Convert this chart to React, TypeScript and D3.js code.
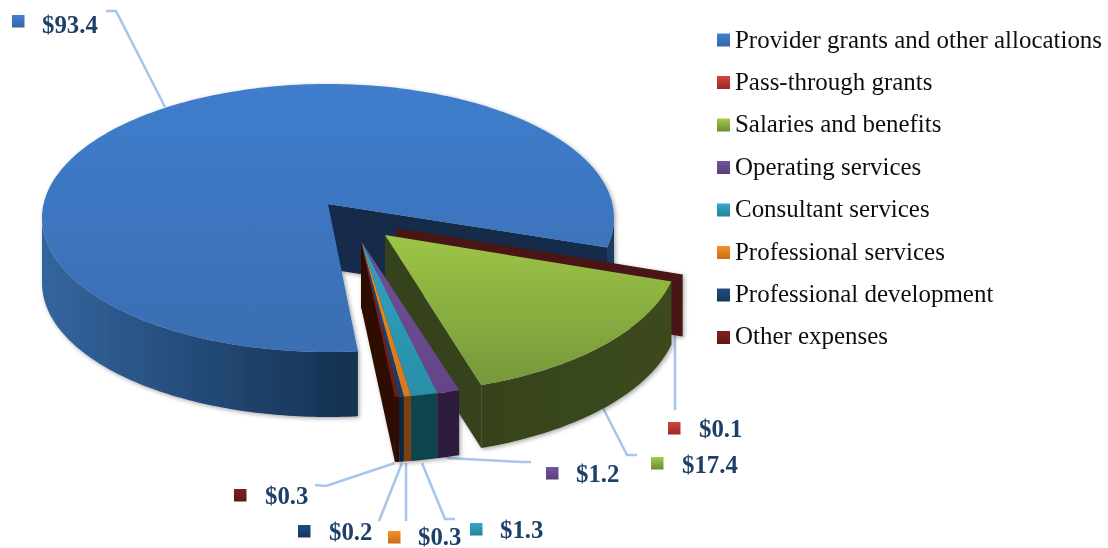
import React from 'react';
import * as d3 from 'd3';

const categories = ['Provider grants and other allocations','Pass-through grants','Salaries and benefits','Operating services','Consultant services','Professional services','Professional development','Other expenses'];
const values = [93.4, 0.1, 17.4, 1.2, 1.3, 0.3, 0.2, 0.3];

// styles
const topLight = ['#3f7dcc','#cf3f3b','#9dc546','#70509c','#2fa3c2','#f08a24','#1d4a7e','#7e1f1d'];
const topDark  = ['#3a6eb2','#a62f2c','#76983a','#634587','#2a8ea8','#d8771c','#173c66','#691a18'];
const sideLeft = ['#33659f','#4a1512','#36431a','#2d1f3e','#0f4450','#7a4010','#10253f','#2f0806'];
const sideRight= ['#15304f','#4a1512','#3b4a1a','#2d1f3e','#0f4450','#7a4010','#10253f','#2f0806'];

// perspective layout: where each slice's apex sits and how big its ellipse looks
type Geom = { ax: number; ay: number; cy: number; rx: number; ry: number; depth: number };
const bigGeom: Geom = { ax: 328, ay: 204, cy: 218, rx: 286, ry: 134, depth: 65 };
const redGeom: Geom = { ax: 396, ay: 228, cy: 242, rx: 294, ry: 144, depth: 62 };
const greenGeom: Geom = { ax: 385, ay: 235, cy: 249, rx: 294, ry: 144, depth: 63 };
const smallGeom: Geom = { ax: 361, ay: 241, cy: 255, rx: 300, ry: 143, depth: 65 };
const geoms = [bigGeom, redGeom, greenGeom, smallGeom, smallGeom, smallGeom, smallGeom, smallGeom];

// pie angle -> on-screen ellipse angle
const screenEdges = [174, 462.7, 463, 520.9, 525.3, 530.4, 531.8, 532.7, 533.5];

// label layout
const labelX = [42, 699, 682, 576, 500, 418, 329, 265];
const labelY = [33, 437, 473, 482, 538, 545, 540, 504];
const markX  = [12, 668, 651, 546, 470, 388, 298, 234];
const markY  = [15, 422, 457, 467, 523, 531, 525, 489];
const leaders: [number, number][][] = [
  [[106,11],[116,11],[165,107]],
  [[675,333],[675,410]],
  [[603,408],[627,455],[637,455]],
  [[447,458],[522,462],[531,462]],
  [[422,463],[445,519],[455,519]],
  [[406,463],[406,521]],
  [[402,463],[379,521]],
  [[395,463],[326,486],[315,485]],
];

const line = d3.line<[number, number]>();
const pie = d3.pie<number>().sort(null).startAngle(0).endAngle(2 * Math.PI);
const arcs = pie(values);
const cum = [0, ...arcs.map(a => (a.endAngle * 180) / Math.PI)];
const warp = d3.scaleLinear().domain(cum).range(screenEdges);

const pt = (g: Geom, deg: number, dy = 0): [number, number] => {
  const t = (deg * Math.PI) / 180;
  return [g.ax + g.rx * Math.sin(t), g.cy - g.ry * Math.cos(t) + dy];
};
const sample = (a: number, b: number) => {
  const n = Math.max(2, Math.ceil(Math.abs(b - a)));
  return d3.range(n + 1).map(i => a + ((b - a) * i) / n);
};
const visibleRanges = (a: number, b: number) => {
  const out: [number, number][] = [];
  for (let k = -1; k < 3; k++) {
    const lo = Math.max(a, 90 + 360 * k), hi = Math.min(b, 270 + 360 * k);
    if (hi > lo) out.push([lo, hi]);
  }
  return out;
};

const order = [0, 1, 2, 3, 4, 5, 6, 7];

export default function App() {
  return (
    <svg width={1108} height={548} style={{ position: 'absolute', left: 0, top: 0, background: '#fff' }}>
      <defs>
        <filter id="soft" x="-5%" y="-5%" width="110%" height="110%"><feGaussianBlur stdDeviation="0.55" /></filter>
        <filter id="shadow" x="-5%" y="-5%" width="110%" height="110%">
          <feDropShadow dx="1.5" dy="1.5" stdDeviation="2" floodColor="#000" floodOpacity="0.35" />
        </filter>
        {values.map((_, i) => (
          <React.Fragment key={i}>
            <linearGradient id={`top${i}`} x1="0" y1="0" x2="0" y2="1">
              <stop offset="0" stopColor={topLight[i]} />
              <stop offset="1" stopColor={topDark[i]} />
            </linearGradient>
            <linearGradient id={`side${i}`} x1="0" y1="0" x2="1" y2="0">
              <stop offset="0" stopColor={sideLeft[i]} />
              <stop offset="1" stopColor={sideRight[i]} />
            </linearGradient>
            <linearGradient id={`mark${i}`} x1="0" y1="0" x2="0" y2="1">
              <stop offset="0" stopColor={d3.color(topLight[i])!.brighter(0.1).formatHex()} />
              <stop offset="1" stopColor={d3.color(topDark[i])!.darker(0.25).formatHex()} />
            </linearGradient>
          </React.Fragment>
        ))}
      </defs>
      <g filter="url(#soft)">
        <g fill="none" stroke="#a8c6e9" strokeWidth={2.6}>
          {leaders.map((l, i) => <path key={i} d={line(l)!} />)}
        </g>
        <g filter="url(#shadow)">
          {order.map(i => {
            const g = geoms[i];
            const a0 = warp(cum[i]), a1 = warp(cum[i + 1]);
            const apex: [number, number] = [g.ax, g.ay];
            const apexLow: [number, number] = [g.ax, g.ay + g.depth];
            const topPts: [number, number][] = [apex, ...sample(a0, a1).map(d => pt(g, d))];
            return (
              <g key={i}>
                <path d={line([apex, pt(g, a1), pt(g, a1, g.depth), apexLow])! + 'Z'} fill={i === 0 ? '#152c4a' : i === 2 ? '#36431a' : sideLeft[i]} />
                {visibleRanges(a0, a1).map(([lo, hi], k) => {
                  const s = sample(lo, hi);
                  const band = [...s.map(d => pt(g, d)), ...s.slice().reverse().map(d => pt(g, d, g.depth))];
                  const solid = i === 0 && k > 0;
                  return <path key={k} d={line(band)! + 'Z'} fill={solid ? '#1a3a62' : `url(#side${i})`} />;
                })}
                {i !== 1 && <path d={line(topPts)! + 'Z'} fill={`url(#top${i})`} />}
              </g>
            );
          })}
        </g>
        {categories.map((c, i) => (
          <g key={c}>
            <rect x={markX[i]} y={markY[i]} width={12.5} height={12.5} fill={`url(#mark${i})`} />
            <text x={labelX[i]} y={labelY[i]} fontFamily="'Liberation Serif'" fontWeight="bold" fontSize={24.8} fill="#1f3f68">
              {'$' + d3.format('.1f')(values[i])}
            </text>
            <rect x={717} y={33.5 + 42.5 * i} width={13} height={13} fill={`url(#mark${i})`} />
            <text x={735} y={47.5 + 42.4 * i} fontFamily="'Liberation Serif'" fontSize={24.95} fill="#111">{c}</text>
          </g>
        ))}
      </g>
    </svg>
  );
}
